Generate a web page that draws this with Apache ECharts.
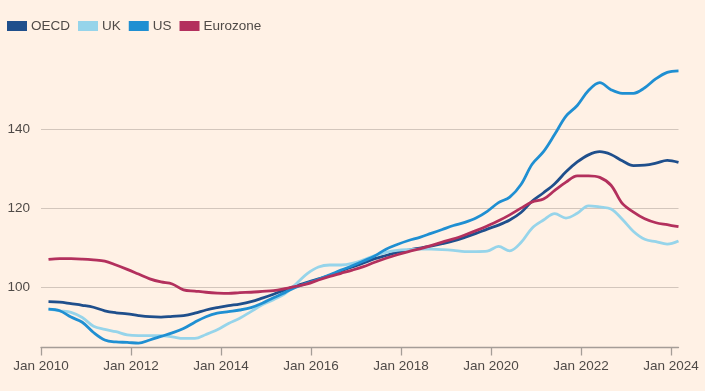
<!DOCTYPE html>
<html>
<head>
<meta charset="utf-8">
<script src="https://cdn.jsdelivr.net/npm/echarts@6/dist/echarts.min.js"></script>
<style>
html,body{margin:0;padding:0;background:#fff1e5;}
#chart{width:705px;height:391px;}
</style>
</head>
<body>
<div id="chart"></div>
<script>
// Quarterly observations, Mar 2010 – Mar 2024
const startYear = 2010, startMonth = 3, nQuarters = 57;
const xTickYears = [2010, 2012, 2014, 2016, 2018, 2020, 2022, 2024];
const yTickValues = [100, 120, 140];

const oecd = [96.3,96.2,95.8,95.4,94.9,94.0,93.5,93.2,92.8,92.5,92.4,92.6,92.8,93.4,94.2,94.8,
  95.3,95.7,96.3,97.2,98.2,99.3,100.3,101.2,102.1,102.9,104.1,105.1,106.1,107.2,108.0,108.8,
  109.4,109.9,110.4,111.0,111.7,112.6,113.6,114.7,115.7,117.0,118.9,121.8,123.9,126.2,129.2,131.7,
  133.5,134.3,133.6,132.0,130.8,130.9,131.4,132.1,131.6];
const uk = [94.4,94.0,93.6,92.3,90.1,89.3,88.7,87.9,87.7,87.7,87.7,87.4,87.0,87.0,88.0,89.2,
  90.8,92.1,93.8,95.5,96.8,98.3,100.8,103.4,105.1,105.6,105.6,106.0,106.9,108.0,108.8,109.3,
  109.5,109.6,109.6,109.5,109.3,109.0,109.0,109.1,110.3,109.2,111.3,115.0,117.0,118.6,117.5,118.7,
  120.6,120.3,119.8,117.2,114.1,112.1,111.5,110.9,111.7];
const us = [94.4,94.0,92.4,91.1,88.5,86.6,86.1,86.0,85.8,86.6,87.5,88.4,89.5,91.1,92.5,93.4,
  93.8,94.2,94.8,95.9,97.3,98.6,100.0,101.0,102.0,103.1,104.3,105.4,106.6,107.9,109.6,110.8,
  111.8,112.6,113.6,114.6,115.6,116.4,117.5,119.2,121.4,122.8,126.0,131.2,134.3,138.7,143.3,146.0,
  149.8,151.8,150.0,149.1,149.1,150.5,152.8,154.4,154.8];
const eurozone = [107.0,107.2,107.2,107.1,106.9,106.6,105.6,104.5,103.3,102.1,101.3,100.8,99.3,99.0,98.7,98.5,
  98.4,98.6,98.7,98.9,99.1,99.6,100.2,100.8,101.8,102.7,103.5,104.3,105.2,106.3,107.3,108.2,
  109.0,109.7,110.5,111.4,112.2,113.2,114.3,115.5,116.8,118.3,120.0,121.6,122.3,124.5,126.6,128.2,
  128.2,127.8,125.8,121.2,119.0,117.3,116.3,115.8,115.3];

const seriesNames = ['OECD', 'UK', 'US', 'Eurozone'];
const seriesColors = ['#1f4f8c', '#96d4ea', '#1f8fd2', '#b3305d'];
const seriesValues = [oecd, uk, us, eurozone];

// decimal-year x positions for each quarter
const xYears = [];
for (let i = 0; i < nQuarters; i++) {
  const m = startMonth - 1 + i * 3;
  xYears.push(startYear + m / 12);
}
const xMax = xYears[xYears.length - 1];

const chart = echarts.init(document.getElementById('chart'), null, {renderer: 'canvas'});
const textColor = '#4f4a47';
const font = 'Liberation Sans';

chart.setOption({
  backgroundColor: '#fff1e5',
  animation: false,
  legend: {
    left: 2, top: 14,
    icon: 'rect', itemWidth: 20, itemHeight: 10, itemGap: 8,
    textStyle: {color: textColor, fontSize: 13.5, fontFamily: font, padding: [0, 0, 0, -1]},
    data: seriesNames
  },
  grid: {left: 41, right: 26.5, top: 70, bottom: 43.5, containLabel: false},
  xAxis: {
    type: 'value', min: startYear, max: xMax,
    axisLine: {show: true, lineStyle: {color: '#a59d97', width: 1.3}},
    axisTick: {show: true, length: 8, customValues: xTickYears, lineStyle: {color: '#a59d97', width: 1.3}},
    axisLabel: {customValues: xTickYears, formatter: v => 'Jan ' + Math.round(v), color: textColor,
      fontSize: 13.5, fontFamily: font, margin: 12},
    splitLine: {show: false}
  },
  yAxis: {
    type: 'value', min: 84.7, max: 155,
    axisLine: {show: false},
    axisTick: {show: false, customValues: yTickValues},
    axisLabel: {customValues: yTickValues, color: textColor, fontSize: 13.5, fontFamily: font, margin: 11},
    splitLine: {show: true, lineStyle: {color: '#d3c6bc', width: 1.2}}
  },
  series: seriesNames.map((name, i) => ({
    name: name, type: 'line', smooth: 0.35, showSymbol: false,
    color: seriesColors[i],
    lineStyle: {width: 2.8, color: seriesColors[i]},
    data: seriesValues[i].map((v, j) => [xYears[j], v])
  }))
});
</script>
</body>
</html>
